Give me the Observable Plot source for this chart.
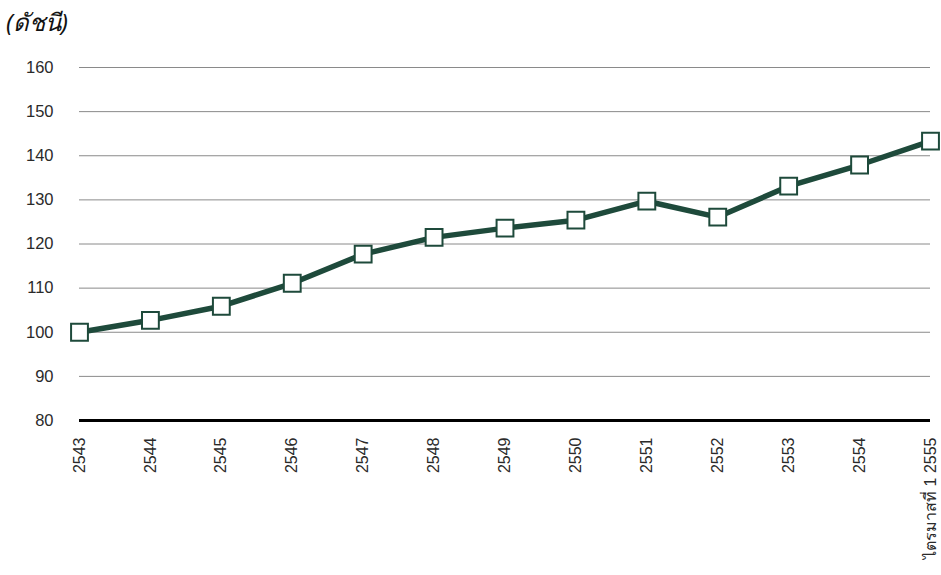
<!DOCTYPE html>
<html>
<head>
<meta charset="utf-8">
<script src="https://cdn.jsdelivr.net/npm/d3@7"></script>
<script src="https://cdn.jsdelivr.net/npm/@observablehq/plot@0.6"></script>
<style>
  html, body { margin: 0; padding: 0; background: #fff; }
  #wrap { position: relative; width: 941px; height: 575px; overflow: hidden; }
  #unit { position: absolute; left: 6px; top: 3px; font-family: "Noto Sans", "DejaVu Sans", sans-serif; font-style: italic; font-weight: 400; font-size: 24px; color: #111; }
</style>
</head>
<body>
<div id="wrap">
  <div id="unit">(ดัชนี)</div>
</div>
<script>
// Index by year (base year 2543 = 100)
const periods = ["2543", "2544", "2545", "2546", "2547", "2548", "2549", "2550", "2551", "2552", "2553", "2554", "ไตรมาสที่ 1 2555"];
const indexValues = [100, 102.7, 105.9, 111.1, 117.7, 121.5, 123.6, 125.4, 129.7, 126.1, 133.1, 137.9, 143.3];
const yTicks = [80, 90, 100, 110, 120, 130, 140, 150, 160];

const data = periods.map((p, i) => ({period: p, value: indexValues[i]}));
const lineColor = "#1e4a3b";

const chart = Plot.plot({
  width: 941,
  height: 575,
  marginLeft: 79,
  marginRight: 11,
  marginTop: 67,
  marginBottom: 155,
  style: {fontFamily: "Liberation Sans, Arial, sans-serif", fontSize: "16px", color: "#2a2a2a", background: "transparent"},
  x: {type: "point", domain: periods, padding: 0, round: false, label: null},
  y: {domain: [80, 160], label: null},
  marks: [
    Plot.gridY(yTicks.filter(d => d > 80), {stroke: "#8a8a8a", strokeOpacity: 1, strokeWidth: 1}),
    Plot.ruleY([80], {stroke: "#000", strokeWidth: 3}),
    Plot.axisY(yTicks, {tickSize: 0, tickPadding: 26, fontSize: 16.5, label: null}),
    Plot.axisX({tickSize: 0, tickPadding: 17, tickRotate: -90, fontSize: 16, label: null}),
    Plot.line(data, {x: "period", y: "value", stroke: lineColor, strokeWidth: 5.5}),
    Plot.dot(data, {x: "period", y: "value", symbol: "square", r: 9.5, fill: "#fff", stroke: lineColor, strokeWidth: 2})
  ]
});
document.getElementById("wrap").prepend(chart);
chart.style.position = "absolute";
chart.style.left = "0";
chart.style.top = "0";
chart.style.overflow = "visible";
</script>
</body>
</html>
